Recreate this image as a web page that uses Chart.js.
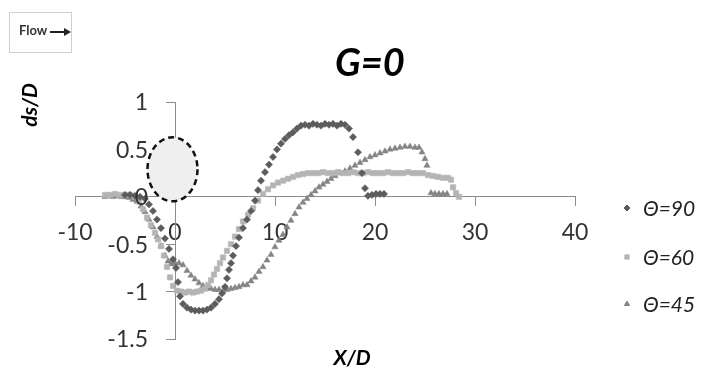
<!DOCTYPE html>
<html>
<head>
<meta charset="utf-8">
<script src="https://cdn.jsdelivr.net/npm/chart.js@4/dist/chart.umd.min.js"></script>
<style>
  html, body { margin: 0; padding: 0; background: #fff; }
  #wrap { width: 702px; height: 371px; }
</style>
</head>
<body>
<div id="wrap"><canvas id="chart" width="702" height="371"></canvas></div>
<script>
// series labels
const seriesLabels = ["\u0398=90", "\u0398=60", "\u0398=45"];

// theta = 90 (diamonds)
const x90 = [-5, -4.5, -4, -3.5, -3, -2.6, -2.2, -1.8, -1.4, -1, -0.6, -0.2, 0.1, 0.3, 0.5, 0.8, 1.2, 1.6, 2, 2.4,
  2.8, 3.2, 3.6, 4, 4.4, 4.7, 5, 5.2, 5.4, 5.6, 5.8, 6.1, 6.4, 6.8, 7.2, 7.6, 8, 8.3, 8.6, 9,
  9.4, 9.8, 10.2, 10.6, 11, 11.4, 11.8, 12.2, 12.6, 13, 13.4, 13.8, 14.2, 14.6, 15, 15.4, 15.8, 16.2, 16.6, 17,
  17.4, 17.8, 18.3, 18.7, 19, 19.3, 19.7, 20.1, 20.5, 20.9];
const y90 = [0.02, 0.02, 0.01, 0, -0.02, -0.08, -0.15, -0.24, -0.33, -0.44, -0.55, -0.66, -0.75, -0.9, -1.05, -1.13, -1.17, -1.19, -1.2, -1.2,
  -1.2, -1.19, -1.17, -1.13, -1.08, -1.02, -0.95, -0.86, -0.77, -0.7, -0.62, -0.52, -0.43, -0.33, -0.24, -0.15, -0.04, 0.07, 0.17, 0.26,
  0.34, 0.42, 0.5, 0.56, 0.61, 0.65, 0.68, 0.72, 0.75, 0.76, 0.75, 0.77, 0.76, 0.75, 0.77, 0.76, 0.77, 0.75, 0.77, 0.76,
  0.72, 0.63, 0.47, 0.25, 0.09, 0.01, 0.02, 0.03, 0.03, 0.03];

// theta = 60 (squares)
const x60 = [-7, -6.5, -6, -5.5, -5, -4.5, -4, -3.6, -3.2, -2.8, -2.4, -2, -1.7, -1.4, -1.1, -0.8, -0.5, -0.2, 0.2, 0.6,
  1, 1.4, 1.8, 2.2, 2.6, 3, 3.3, 3.6, 3.9, 4.2, 4.5, 4.8, 5.2, 5.6, 6, 6.4, 6.8, 7.3, 7.8, 8.3,
  8.8, 9.3, 9.8, 10.3, 10.8, 11.3, 11.8, 12.3, 12.8, 13.3, 13.8, 14.3, 14.8, 15.3, 15.8, 16.3, 16.8, 17.3, 17.8, 18.3,
  18.8, 19.3, 19.8, 20.3, 20.8, 21.3, 21.8, 22.3, 22.8, 23.3, 23.8, 24.3, 24.8, 25.3, 25.8, 26.3, 26.8, 27.3, 27.6, 27.8,
  28.1, 28.4];
const y60 = [0.02, 0.02, 0.03, 0.02, 0.02, 0.02, 0, -0.05, -0.13, -0.22, -0.3, -0.38, -0.45, -0.52, -0.62, -0.74, -0.85, -0.94, -0.99, -1,
  -1.01, -1, -1.01, -1, -0.99, -0.97, -0.93, -0.88, -0.82, -0.76, -0.7, -0.64, -0.57, -0.5, -0.42, -0.34, -0.26, -0.19, -0.12, -0.04,
  0.03, 0.08, 0.12, 0.15, 0.17, 0.19, 0.21, 0.23, 0.24, 0.25, 0.25, 0.25, 0.26, 0.25, 0.25, 0.26, 0.25, 0.25, 0.26, 0.25,
  0.25, 0.26, 0.25, 0.25, 0.25, 0.26, 0.25, 0.25, 0.25, 0.26, 0.25, 0.25, 0.25, 0.23, 0.22, 0.21, 0.2, 0.2, 0.18, 0.1,
  0.04, 0];

// theta = 45 (triangles)
const x45 = [-7, -6.6, -6.2, -5.8, -5.4, -5, -4.6, -4.2, -3.8, -3.4, -3, -2.6, -2.2, -1.8, -1.4, -1, -0.7, -0.4, 0, 0.4,
  0.8, 1.2, 1.6, 2, 2.4, 2.8, 3.2, 3.6, 4, 4.4, 4.8, 5.2, 5.6, 6, 6.4, 6.8, 7.2, 7.6, 8, 8.4,
  8.8, 9.2, 9.6, 10, 10.4, 10.8, 11.2, 11.6, 12, 12.4, 12.8, 13.2, 13.6, 14, 14.4, 14.8, 15.2, 15.6, 16, 16.5,
  17, 17.5, 18, 18.5, 19, 19.5, 20, 20.5, 21, 21.5, 22, 22.5, 23, 23.5, 24, 24.4, 24.7, 25, 25.2, 25.6,
  26, 26.4, 26.8, 27.2];
const y45 = [0, 0.01, 0, 0.01, 0, 0, -0.01, -0.03, -0.05, -0.1, -0.16, -0.24, -0.32, -0.42, -0.52, -0.62, -0.68, -0.71, -0.7, -0.7,
  -0.72, -0.78, -0.83, -0.87, -0.91, -0.94, -0.96, -0.97, -0.98, -0.98, -0.99, -0.98, -0.97, -0.96, -0.95, -0.93, -0.93, -0.89, -0.85, -0.79,
  -0.74, -0.67, -0.61, -0.53, -0.46, -0.4, -0.32, -0.25, -0.18, -0.11, -0.06, -0.02, 0.02, 0.06, 0.1, 0.13, 0.16, 0.19, 0.22, 0.25,
  0.27, 0.3, 0.33, 0.36, 0.39, 0.42, 0.44, 0.46, 0.48, 0.5, 0.51, 0.52, 0.53, 0.53, 0.52, 0.52, 0.47, 0.4, 0.33, 0.04,
  0.03, 0.03, 0.03, 0.03];

const xTicks = [-10, 0, 10, 20, 30, 40];
const yTicks = [-1.5, -1, -0.5, 0, 0.5, 1];

function toPoints(xs, ys) {
  return xs.map((x, i) => ({ x: x, y: ys[i] }));
}

const FONT = "Lato, 'Open Sans', sans-serif";
const TICK_FONT = "23px " + FONT;

// title, axis titles, flow box, legend and the cylinder outline
const decorations = {
  id: "decorations",
  afterDatasetsDraw(chart) {
    const ctx = chart.ctx;
    const sx = chart.scales.x, sy = chart.scales.y;
    const cx = sx.getPixelForValue(-0.25);
    const cy = sy.getPixelForValue(0.29);
    ctx.save();
    ctx.beginPath();
    ctx.ellipse(cx, cy, 25, 32, 0, 0, Math.PI * 2);
    ctx.fillStyle = "#efefef";
    ctx.fill();
    ctx.setLineDash([6, 4]);
    ctx.lineWidth = 2.5;
    ctx.strokeStyle = "#111";
    ctx.stroke();
    ctx.restore();
  },
  afterDraw(chart) {
    const ctx = chart.ctx;
    const sx = chart.scales.x, sy = chart.scales.y;
    ctx.save();

    // y tick labels, to the left of the crossing axis
    ctx.font = TICK_FONT;
    ctx.fillStyle = "#333";
    ctx.textAlign = "right";
    ctx.textBaseline = "middle";
    const axisX = sx.getPixelForValue(0);
    sy.ticks.forEach(t => {
      ctx.fillText(String(t.value), axisX - 27, sy.getPixelForValue(t.value) + 1);
    });

    ctx.fillStyle = "#000";
    ctx.textAlign = "center";

    // chart title
    ctx.font = "italic bold 38px " + FONT;
    ctx.fillText("G=0", 370, 64);

    // axis titles
    ctx.font = "italic bold 21px " + FONT;
    ctx.fillText("X/D", 352, 358);
    ctx.save();
    ctx.translate(30, 105);
    ctx.rotate(-Math.PI / 2);
    ctx.fillText("ds/D", 0, 0);
    ctx.restore();

    // flow box
    ctx.strokeStyle = "#cfcfcf";
    ctx.lineWidth = 1;
    ctx.strokeRect(9.5, 12.5, 62, 40);
    ctx.font = "bold 13px " + FONT;
    ctx.fillStyle = "#333";
    ctx.textAlign = "left";
    ctx.fillText("Flow", 19, 31);
    ctx.strokeStyle = "#222";
    ctx.lineWidth = 2;
    ctx.beginPath();
    ctx.moveTo(50, 32);
    ctx.lineTo(65, 32);
    ctx.stroke();
    ctx.fillStyle = "#222";
    ctx.beginPath();
    ctx.moveTo(71, 32);
    ctx.lineTo(64, 28);
    ctx.lineTo(64, 36);
    ctx.closePath();
    ctx.fill();

    // legend
    const legendY = [208, 257, 304];
    ctx.font = "italic 21px " + FONT;
    ctx.textAlign = "left";
    chart.data.datasets.forEach((ds, i) => {
      ctx.fillStyle = ds.backgroundColor;
      ctx.strokeStyle = ds.borderColor;
      ctx.lineWidth = 1;
      Chart.helpers.drawPoint(ctx, { pointStyle: ds.pointStyle, radius: 3, rotation: 0, borderWidth: 1 }, 627, legendY[i]);
      ctx.fillStyle = "#222";
      ctx.fillText(ds.label, 643, legendY[i] + 1);
    });
    ctx.restore();
  }
};

const colors = ["#5c5c5c", "#b4b4b4", "#848484"];
const styles = ["rectRot", "rect", "triangle"];
const radii = [3.6, 3.8, 3.6];
const xs = [x90, x60, x45];
const ys = [y90, y60, y45];

new Chart(document.getElementById("chart"), {
  type: "scatter",
  data: {
    datasets: seriesLabels.map((label, i) => ({
      label: label,
      data: toPoints(xs[i], ys[i]),
      pointStyle: styles[i],
      pointRadius: radii[i],
      backgroundColor: colors[i],
      borderColor: colors[i],
      borderWidth: 0.5,
      showLine: false
    }))
  },
  options: {
    responsive: false,
    animation: false,
    layout: { padding: { left: 75, right: 127, top: 102, bottom: 32 } },
    plugins: {
      legend: { display: false },
      title: { display: false },
      tooltip: { enabled: false }
    },
    scales: {
      x: {
        type: "linear",
        position: { y: 0 },
        min: -10,
        max: 40,
        afterBuildTicks: (s) => { s.ticks = xTicks.map(v => ({ value: v })); },
        ticks: { color: "#333", font: { family: FONT, size: 23 }, padding: 13 },
        grid: { drawOnChartArea: false, drawTicks: true, tickLength: 9, color: "#8c8c8c" },
        border: { display: true, color: "#8c8c8c", width: 1 }
      },
      y: {
        type: "linear",
        position: { x: 0 },
        min: -1.5,
        max: 1,
        afterBuildTicks: (s) => { s.ticks = yTicks.map(v => ({ value: v })); },
        ticks: { display: false },
        grid: { drawOnChartArea: false, drawTicks: true, tickLength: 9, color: "#8c8c8c" },
        border: { display: true, color: "#8c8c8c", width: 1 }
      }
    }
  },
  plugins: [decorations]
});
</script>
</body>
</html>
